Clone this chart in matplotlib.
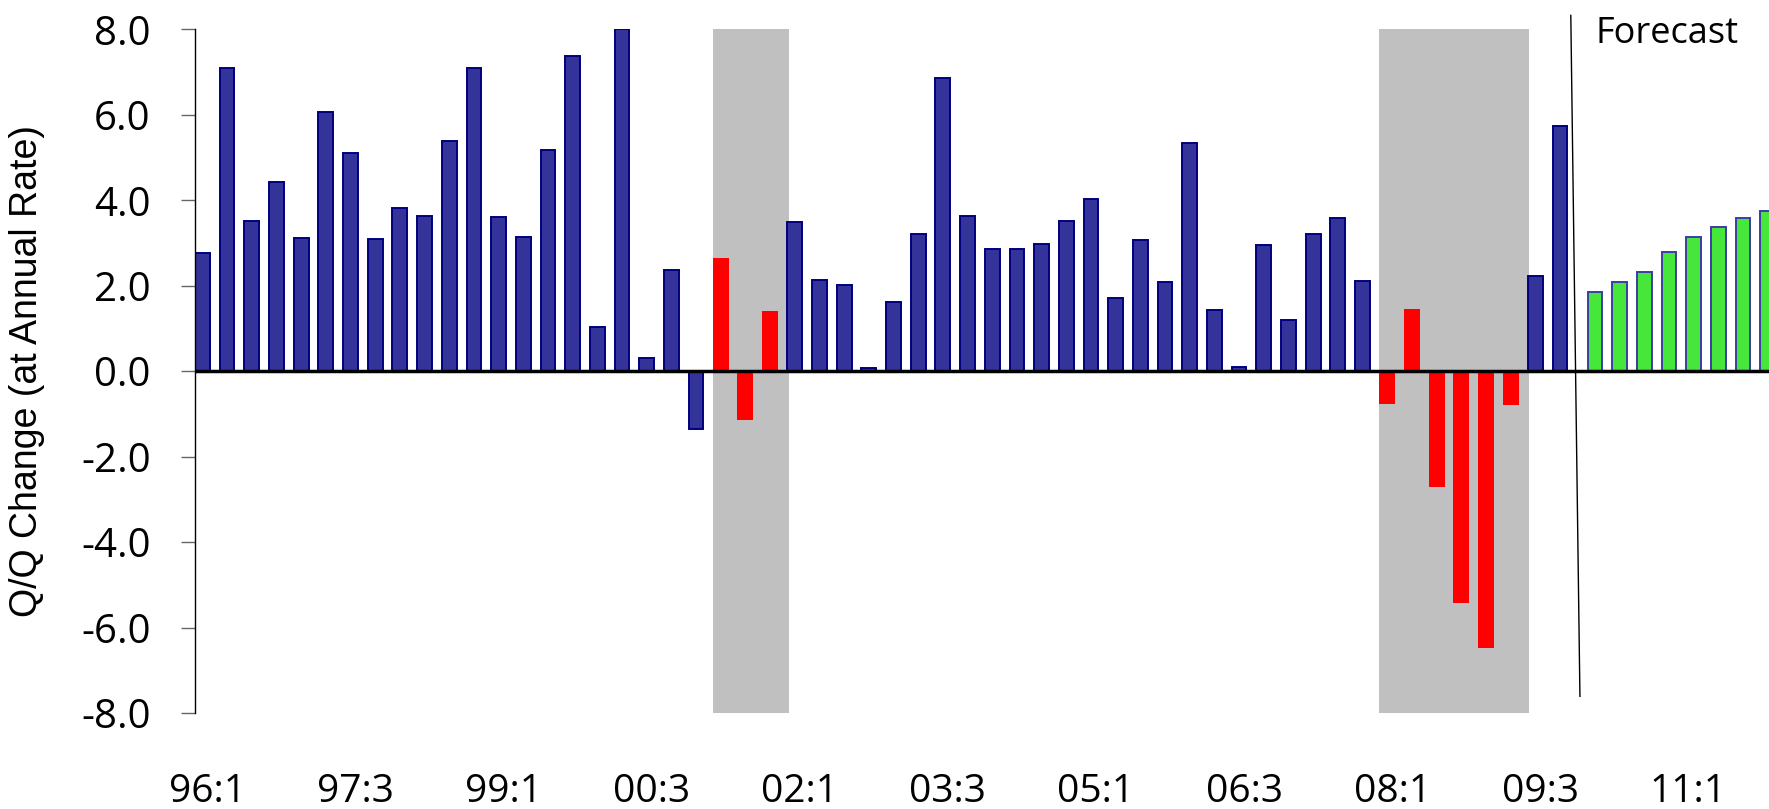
import numpy as np
import matplotlib.pyplot as plt

# quarterly Q/Q change, 96:1 .. 09:4 (actual) and 10:1 .. 11:4 (forecast)
history = [2.76, 7.09, 3.52, 4.43, 3.11, 6.06, 5.10, 3.09, 3.83, 3.64, 5.38, 7.10,
           3.60, 3.15, 5.18, 7.37, 1.04, 8.00, 0.32, 2.38, -1.35, 2.65, -1.14, 1.42,
           3.49, 2.14, 2.01, 0.08, 1.63, 3.22, 6.87, 3.64, 2.85, 2.87, 2.97, 3.51,
           4.04, 1.71, 3.07, 2.08, 5.35, 1.44, 0.09, 2.95, 1.20, 3.21, 3.59, 2.12,
           -0.76, 1.45, -2.72, -5.42, -6.47, -0.78, 2.22, 5.73]
forecast = [1.86, 2.08, 2.32, 2.80, 3.15, 3.37, 3.59, 3.74]
recessions = [(21, 23), (48, 53)]  # first / last quarter index
tick_labels = ["96:1", "97:3", "99:1", "00:3", "02:1", "03:3",
               "05:1", "06:3", "08:1", "09:3", "11:1"]
y_ticks = [-8, -6, -4, -2, 0, 2, 4, 6, 8]

plt.rcParams['font.family'] = 'Open Sans'

fig = plt.figure(figsize=(17.69, 8.09), dpi=100)
ax = fig.add_axes([0.11023, 0.11867, 0.88977, 0.84487])

x_hist = np.arange(len(history))
x_fc = np.arange(len(history), len(history) + len(forecast))

in_rec = np.zeros(len(history), dtype=bool)
for a, b in recessions:
    in_rec[a:b + 1] = True
    ax.axvspan(a - 0.52, b + 0.56, color="#C0C0C0", zorder=0, lw=0)

hist = np.array(history)
ax.bar(x_hist[~in_rec] - 0.2, hist[~in_rec], width=0.6, color="#333399",
       edgecolor="#000080", linewidth=1.4, zorder=2)
ax.bar(x_hist[in_rec] - 0.2, hist[in_rec], width=0.65, color="#FF0000",
       edgecolor="none", zorder=2)
ax.bar(x_fc + 0.22, forecast, width=0.6, color="#47E63B",
       edgecolor="#3C3CA6", linewidth=1.4, zorder=2)

ax.axhline(0, color="black", linewidth=2.5, zorder=3)

# forecast divider
ax.plot([55.24, 55.61], [8.33, -7.61], color="black", lw=1.0,
        clip_on=False, zorder=4)
fig.text(1595 / 1769, 1 - 43.3 / 809, "Forecast", fontsize=26,
         ha="left", va="baseline")

ax.set_xlim(-0.5, 63.27)
ax.set_ylim(-8, 8)
ax.set_yticks(y_ticks)
ax.set_yticklabels([f"{v:.1f}" for v in y_ticks], fontsize=29)
ax.set_xticks(np.arange(0, 6 * len(tick_labels), 6))
ax.set_xticklabels(tick_labels, fontsize=28)
ax.tick_params(axis="x", length=0, pad=43)
ax.tick_params(axis="y", length=10, width=1, color="#666666", pad=22)

for s in ["top", "right", "bottom"]:
    ax.spines[s].set_visible(False)
ax.spines["left"].set_linewidth(1.0)

ax.set_ylabel("Q/Q Change (at Annual Rate)", family="Liberation Sans",
              fontsize=27)
ax.yaxis.set_label_coords(-0.0953, 0.5)

fig.savefig("out.png", dpi=100)
